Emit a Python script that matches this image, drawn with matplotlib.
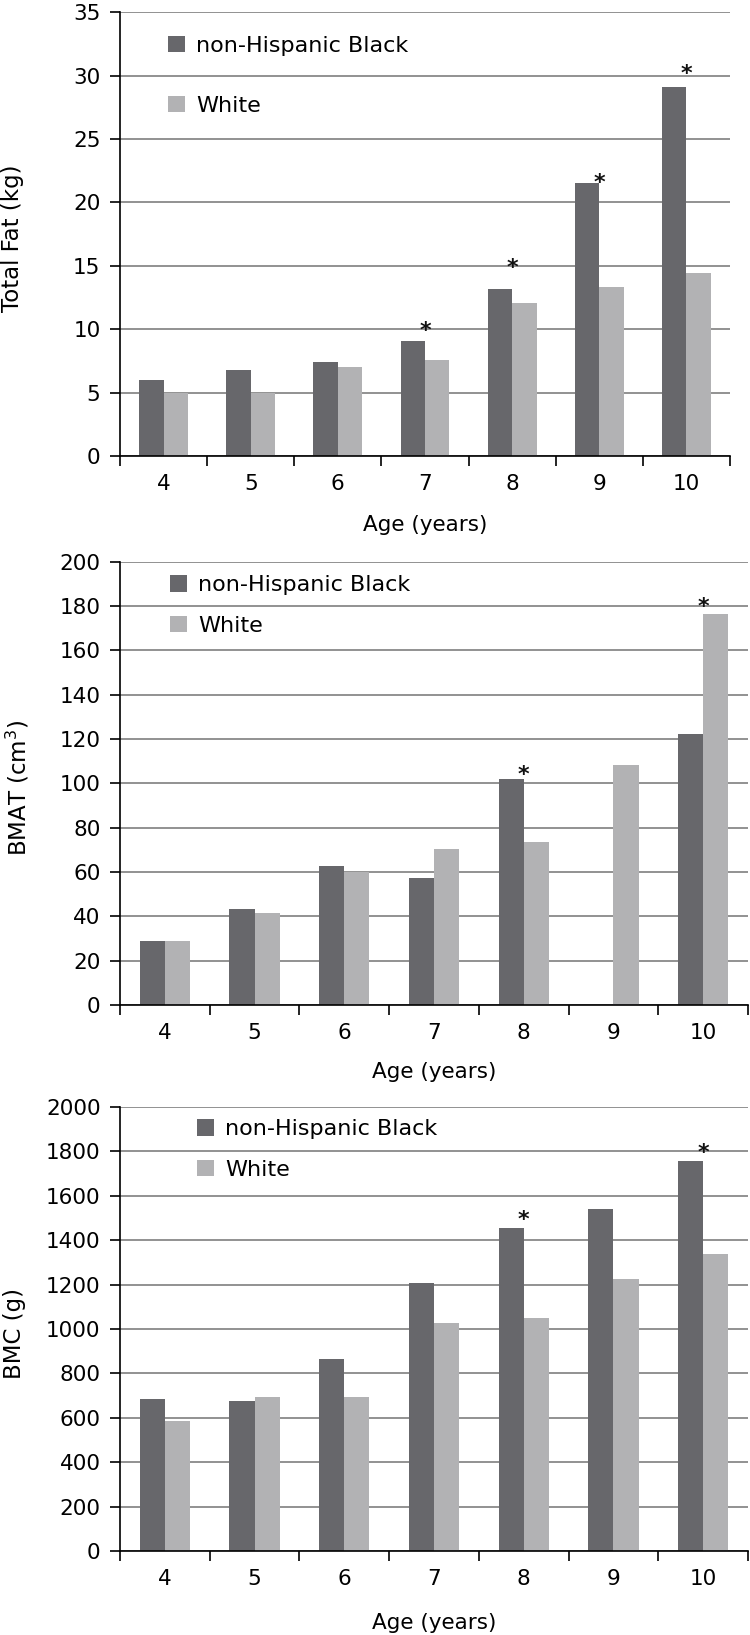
import matplotlib
matplotlib.use('Agg')
import matplotlib.pyplot as plt
import numpy as np

ages = ['4', '5', '6', '7', '8', '9', '10']
groups = ['non-Hispanic Black', 'White']

fat_black = [6.0, 6.8, 7.4, 9.1, 13.2, 21.5, 29.1]
fat_white = [5.0, 5.0, 7.0, 7.6, 12.1, 13.3, 14.4]
fat_star_at = [3, 4, 5, 6]
fat_star_y = [10.4, 15.4, 22.1, 30.7]

bmat_black = [29.0, 43.4, 62.9, 57.5, 101.8, 0.0, 122.1]
bmat_white = [28.7, 41.5, 59.8, 70.5, 73.6, 108.1, 176.3]
bmat_star_at = [4, 6]
bmat_star_y = [107, 183]

bmc_black = [685, 677, 865, 1206, 1456, 1541, 1755]
bmc_white = [585, 692, 695, 1029, 1050, 1225, 1337]
bmc_star_at = [4, 6]
bmc_star_y = [1522, 1825]

dark = '#67676b'
light = '#b2b2b4'
W, H = 750, 1635


def draw_panel(fig, rect, black, white, ymax, ystep, ylabel, ylab_x, xlab_y,
               star_at, star_y, leg_xy, leg_space):
    ax = fig.add_axes(rect)
    x = np.arange(len(ages))
    bw = 0.28
    ax.set_axisbelow(True)
    ax.bar(x - bw / 2, black, bw, color=dark, label=groups[0], zorder=2)
    ax.bar(x + bw / 2, white, bw, color=light, label=groups[1], zorder=2)
    for i, y in zip(star_at, star_y):
        ax.annotate('*', (x[i], y), xytext=(0, -9.5), textcoords='offset points',
                    ha='center', va='baseline', fontsize=16, fontweight='bold',
                    color='#111111')

    ax.set_xlim(-0.5, len(ages) - 0.5)
    ax.set_ylim(0, ymax)
    ax.set_yticks(np.arange(0, ymax + ystep / 2, ystep))
    ax.yaxis.grid(True, color='#929292', linewidth=1.4)
    ax.set_xticks(x)
    ax.set_xticklabels(ages)
    ax.set_xticks(np.arange(-0.5, len(ages)), minor=True)
    ax.tick_params(axis='x', which='major', length=0, pad=13, labelsize=15.5)
    ax.tick_params(axis='x', which='minor', length=7, width=1.2, direction='out')
    ax.tick_params(axis='y', length=7, width=1.2, pad=7, labelsize=15.5)
    for s in ['top', 'right']:
        ax.spines[s].set_visible(False)
    for s in ['left', 'bottom']:
        ax.spines[s].set_linewidth(1.2)
        ax.spines[s].set_zorder(3)

    ax.text(ylab_x, 0.49, ylabel, transform=ax.transAxes, rotation=90,
            ha='center', va='center', fontsize=16.5)
    ax.text(0.5, xlab_y, 'Age (years)', transform=ax.transAxes,
            ha='center', va='center', fontsize=15.5)

    ax.legend(loc='upper left', bbox_to_anchor=leg_xy, frameon=False,
              fontsize=16, handlelength=0.77, handleheight=0.77,
              handletextpad=0.5, labelspacing=leg_space, borderpad=0,
              borderaxespad=0)
    return ax


fig = plt.figure(figsize=(W / 100, H / 100), dpi=100)

draw_panel(fig, [120 / W, 1 - 456 / H, 610 / W, 443.7 / H],
           fat_black, fat_white, 35, 5, 'Total Fat (kg)', -0.177, -0.1555,
           fat_star_at, fat_star_y, (0.0787, 0.9477), 1.8)

draw_panel(fig, [120 / W, 1 - 1005 / H, 628 / W, 443.3 / H],
           bmat_black, bmat_white, 200, 20, 'BMAT (cm$^3$)', -0.162, -0.151,
           bmat_star_at, bmat_star_y, (0.0796, 0.969), 0.91)

draw_panel(fig, [120 / W, 1 - 1551 / H, 628 / W, 444 / H],
           bmc_black, bmc_white, 2000, 200, 'BMC (g)', -0.168, -0.162,
           bmc_star_at, bmc_star_y, (0.1226, 0.972), 0.91)

fig.savefig('out.png', dpi=100)
